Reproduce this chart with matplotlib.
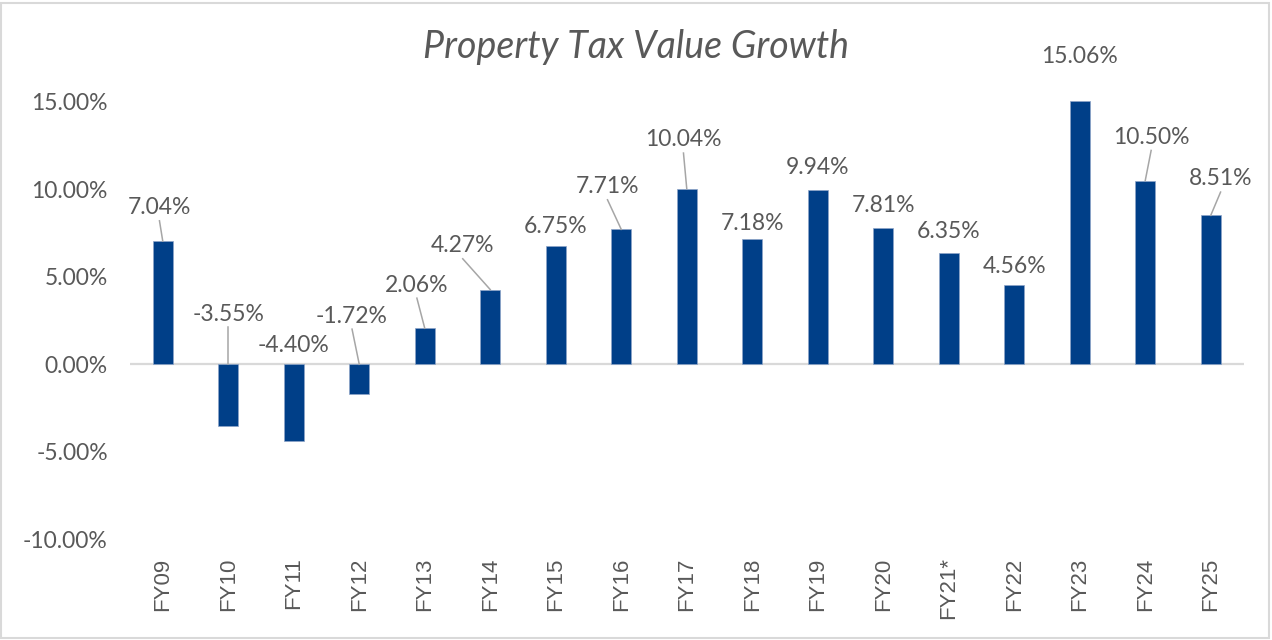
import numpy as np
import matplotlib
matplotlib.use("Agg")
import matplotlib.pyplot as plt
from matplotlib.patches import Rectangle
from matplotlib.ticker import FuncFormatter

# data
years = ["FY09", "FY10", "FY11", "FY12", "FY13", "FY14", "FY15", "FY16", "FY17",
         "FY18", "FY19", "FY20", "FY21*", "FY22", "FY23", "FY24", "FY25"]
growth = [7.04, -3.55, -4.40, -1.72, 2.06, 4.27, 6.75, 7.71, 10.04,
          7.18, 9.94, 7.81, 6.35, 4.56, 15.06, 10.50, 8.51]

# label placement (category offset, height in %), as moved by hand in the original
label_dx = [-0.05, 0.0, 0.0, -0.11, -0.12, -0.42, 0.0, -0.21, -0.05,
            0.0, 0.0, 0.0, 0.0, 0.0, 0.0, 0.09, 0.15]
label_y = [8.95, 2.87, 1.06, 2.76, 4.53, 6.78, 7.90, 10.15, 12.82,
           8.02, 11.26, 9.06, 7.58, 5.58, 17.58, 12.97, 10.59]
leader = [True, True, False, True, True, True, False, True, True,
          False, False, False, False, False, False, True, True]

TXT = "#595959"
BAR = "#003f88"
GRID = "#d9d9d9"

fig = plt.figure(figsize=(12.72, 6.4), dpi=100)
ax = fig.add_axes([130 / 1272, 0.1573, (1243.5 - 130) / 1272, 0.8437 - 0.1573])

x = np.arange(len(years))
vals = np.array(growth)
ax.bar(x, vals, width=0.305, color=BAR, edgecolor="#8ea5c8", linewidth=0.5, zorder=3)
ax.axhline(0, color=GRID, linewidth=1.6, zorder=2)

for i, v in enumerate(vals):
    lx = i + label_dx[i]
    ly = label_y[i]
    ax.text(lx, ly, f"{v:.2f}%", ha="center", va="center", fontsize=16.5,
            family="Lato", color=TXT, clip_on=False)
    if leader[i]:
        ax.plot([lx, i], [ly - 0.75, max(v, 0)], color="#a6a6a6", linewidth=1.1,
                zorder=4, clip_on=False)

ax.set_xlim(-0.5, len(years) - 0.5)
ax.set_ylim(-10, 15.1)
ax.set_yticks(np.arange(-10, 15.1, 5))
ax.yaxis.set_major_formatter(FuncFormatter(lambda v, p: f"{v:.2f}%"))
ax.set_xticks(x)
ax.set_xticklabels(years, rotation=90, family="Liberation Sans", fontsize=16,
                   color=TXT, va="top", ha="center")
for t in ax.get_yticklabels():
    t.set_family("Lato")
    t.set_fontsize(16.5)
    t.set_color(TXT)
ax.tick_params(axis="y", length=0, pad=16)
ax.tick_params(axis="x", length=0, pad=13)
for s in ax.spines.values():
    s.set_visible(False)

fig.text(0.5, 1 - 47 / 640, "Property Tax Value Growth", ha="center", va="center",
         fontsize=27, family="Lato", style="italic", color=TXT)

fig.patches.append(Rectangle((0.001, 0.003), 0.997, 0.992, transform=fig.transFigure,
                             fill=False, edgecolor=GRID, linewidth=1.5))

fig.savefig("out.png", dpi=100)
